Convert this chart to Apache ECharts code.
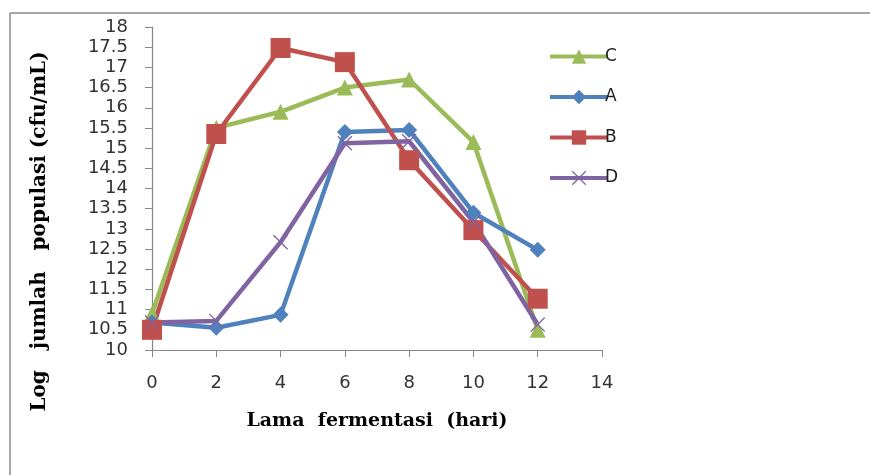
<!DOCTYPE html>
<html>
<head>
<meta charset="utf-8">
<script src="https://cdn.jsdelivr.net/npm/echarts@6/dist/echarts.min.js"></script>
<style>
  html, body { margin: 0; padding: 0; background: #fff; }
  #chart { width: 870px; height: 475px; }
</style>
</head>
<body>
<div id="chart"></div>
<script>
// lama fermentasi (hari)
const days = [0, 2, 4, 6, 8, 10, 12]
// log jumlah populasi per perlakuan
const seriesC = [10.9, 15.5, 15.9, 16.5, 16.7, 15.15, 10.5]
const seriesA = [10.68, 10.55, 10.87, 15.4, 15.45, 13.4, 12.48]
const seriesB = [10.5, 15.35, 17.48, 17.13, 14.7, 12.97, 11.27]
const seriesD = [10.68, 10.72, 12.67, 15.12, 15.17, 13.17, 10.63]

const xMarker = 'path://M0,1 L1,0 L8,7 L15,0 L16,1 L9,8 L16,15 L15,16 L8,9 L1,16 L0,15 L7,8 Z'

const chart = echarts.init(document.getElementById('chart'))

function line(name, values, color, symbol, size) {
  return {
    name,
    type: 'line',
    data: days.map((d, i) => [d, values[i]]),
    symbol,
    symbolSize: size,
    lineStyle: { color, width: 4.5 },
    itemStyle: { color },
    emphasis: { disabled: true },
  }
}

chart.setOption({
  animation: false,
  backgroundColor: '#fff',
  grid: { left: 152, right: 268, top: 27, bottom: 125 },
  graphic: [
    { type: 'line', shape: { x1: 10, y1: 13, x2: 870, y2: 13 }, style: { stroke: '#8a8a8a', lineWidth: 1.5 } },
    { type: 'line', shape: { x1: 10, y1: 13, x2: 10, y2: 475 }, style: { stroke: '#8a8a8a', lineWidth: 1.5 } },
  ],
  legend: {
    orient: 'vertical',
    left: 543,
    top: 43,
    itemWidth: 58,
    itemHeight: 18,
    itemGap: 23.5,
    data: ['C', 'A', 'B', 'D'],
    lineStyle: { width: 4 },
    textStyle: { fontFamily: 'DejaVu Sans', fontSize: 17, color: '#222', padding: [0, 0, 0, -8] },
  },
  xAxis: {
    type: 'value',
    min: 0,
    max: 14,
    interval: 2,
    name: 'Lama  fermentasi  (hari)',
    nameLocation: 'middle',
    nameGap: 62,
    nameTextStyle: { fontFamily: 'DejaVu Serif', fontWeight: 'bold', fontSize: 19, color: '#000' },
    splitLine: { show: false },
    axisLine: { lineStyle: { color: '#868686', width: 1.2 } },
    axisTick: { length: 7, lineStyle: { color: '#868686' } },
    axisLabel: { margin: 24, fontFamily: 'DejaVu Sans', fontSize: 18, color: '#333' },
  },
  yAxis: {
    type: 'value',
    min: 10,
    max: 18,
    interval: 0.5,
    name: 'Log   jumlah   populasi (cfu/mL)',
    nameLocation: 'middle',
    nameGap: 102,
    nameTextStyle: { fontFamily: 'DejaVu Serif', fontWeight: 'bold', fontSize: 20, color: '#000', padding: [0, 86, 0, 0] },
    splitLine: { show: false },
    axisLine: { show: true, lineStyle: { color: '#868686', width: 1.2 } },
    axisTick: { show: true, length: 7, lineStyle: { color: '#868686' } },
    axisLabel: { margin: 24, fontFamily: 'DejaVu Sans', fontSize: 18, color: '#333', lineHeight: 18 },
  },
  series: [
    line('C', seriesC, '#9BBB59', 'triangle', 16),
    line('A', seriesA, '#4F81BD', 'diamond', 16),
    line('B', seriesB, '#C0504D', 'rect', 20),
    line('D', seriesD, '#8064A2', xMarker, 15),
  ],
})

window.addEventListener('resize', () => chart.resize())
</script>
</body>
</html>
